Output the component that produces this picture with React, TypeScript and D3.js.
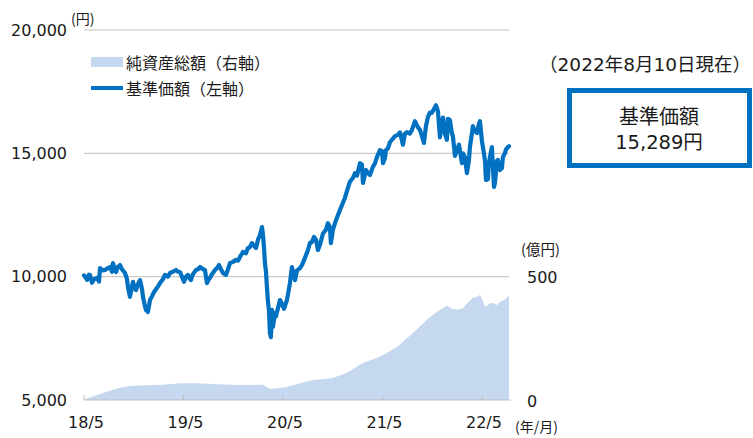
import React from "react";
import * as d3 from "d3";

// 基準価額（円）: [decimal year, value]
const priceSeries: [number, number][] = [
  [2018.333, 10050], [2018.353, 9950], [2018.363, 9870], [2018.383, 10080], [2018.393, 10070],
  [2018.413, 9750], [2018.434, 9900], [2018.464, 9950], [2018.484, 9800], [2018.494, 10350],
  [2018.524, 10250], [2018.544, 10270], [2018.574, 10350], [2018.594, 10390], [2018.614, 10200],
  [2018.624, 10550], [2018.655, 10190], [2018.675, 10400], [2018.695, 10470], [2018.715, 10300],
  [2018.745, 10150], [2018.765, 9900], [2018.775, 9580], [2018.795, 9180], [2018.815, 9600],
  [2018.825, 9790], [2018.846, 9500], [2018.856, 9460], [2018.876, 9700], [2018.896, 9860],
  [2018.916, 9500], [2018.926, 9180], [2018.946, 8800], [2018.956, 8650], [2018.976, 8570],
  [2018.996, 9050], [2019.016, 9200], [2019.037, 9380], [2019.067, 9550], [2019.097, 9740],
  [2019.127, 9900], [2019.147, 10070], [2019.177, 10000], [2019.197, 10150], [2019.227, 10200],
  [2019.258, 10270], [2019.278, 10200], [2019.298, 10190], [2019.318, 10000], [2019.338, 9790],
  [2019.358, 10000], [2019.378, 10070], [2019.398, 9900], [2019.408, 9860], [2019.428, 10100],
  [2019.459, 10270], [2019.479, 10300], [2019.499, 10390], [2019.529, 10300], [2019.549, 10270],
  [2019.569, 9740], [2019.589, 9900], [2019.599, 9950], [2019.619, 10100], [2019.650, 10270],
  [2019.670, 10350], [2019.690, 10470], [2019.710, 10300], [2019.730, 10150], [2019.760, 10070],
  [2019.780, 10300], [2019.800, 10550], [2019.830, 10600], [2019.861, 10680], [2019.881, 10650],
  [2019.901, 10800], [2019.931, 11000], [2019.961, 10950], [2019.981, 11160], [2020.001, 11200],
  [2020.021, 11360], [2020.042, 11250], [2020.062, 11160], [2020.082, 11500], [2020.102, 11690],
  [2020.122, 12010], [2020.132, 11700], [2020.142, 11200], [2020.152, 10550], [2020.162, 10200],
  [2020.172, 9580], [2020.182, 9000], [2020.192, 8650], [2020.202, 7700], [2020.212, 7550],
  [2020.222, 8650], [2020.232, 7960], [2020.253, 8530], [2020.263, 8400], [2020.283, 8730],
  [2020.303, 9050], [2020.323, 8900], [2020.343, 8700], [2020.373, 9050], [2020.393, 9500],
  [2020.403, 9740], [2020.423, 10390], [2020.454, 9860], [2020.474, 10250], [2020.504, 10350],
  [2020.524, 10470], [2020.554, 10760], [2020.584, 11080], [2020.604, 11360], [2020.624, 11410],
  [2020.645, 11610], [2020.665, 11500], [2020.685, 11080], [2020.705, 11300], [2020.735, 11750],
  [2020.765, 11900], [2020.785, 12170], [2020.805, 12010], [2020.815, 11360], [2020.835, 11900],
  [2020.856, 12170], [2020.886, 12500], [2020.906, 12700], [2020.936, 13000], [2020.956, 13200],
  [2020.986, 13600], [2021.006, 13850], [2021.036, 14000], [2021.057, 14200], [2021.077, 14100],
  [2021.107, 14600], [2021.127, 14550], [2021.137, 13800], [2021.167, 14320], [2021.187, 14200],
  [2021.207, 14120], [2021.237, 14450], [2021.258, 14600], [2021.278, 14850], [2021.308, 15130],
  [2021.328, 15100], [2021.338, 14600], [2021.358, 14800], [2021.368, 15130], [2021.388, 15200],
  [2021.408, 15450], [2021.438, 15600], [2021.459, 15700], [2021.489, 15750], [2021.509, 15850],
  [2021.539, 15350], [2021.559, 15800], [2021.579, 15860], [2021.609, 15800], [2021.629, 15950],
  [2021.660, 16300], [2021.690, 16050], [2021.710, 15950], [2021.730, 15700], [2021.750, 15420],
  [2021.770, 16100], [2021.790, 16470], [2021.810, 16650], [2021.830, 16640], [2021.851, 16800],
  [2021.871, 16950], [2021.891, 16700], [2021.911, 15650], [2021.931, 16200], [2021.941, 16450],
  [2021.961, 15800], [2021.981, 15550], [2021.991, 16400], [2022.011, 16350], [2022.031, 15800],
  [2022.041, 15700], [2022.062, 14900], [2022.082, 15130], [2022.102, 15350], [2022.132, 14600],
  [2022.142, 15000], [2022.162, 14850], [2022.182, 14200], [2022.202, 14700], [2022.212, 15250],
  [2022.232, 15800], [2022.242, 16100], [2022.263, 15900], [2022.283, 15820], [2022.303, 16200],
  [2022.313, 16300], [2022.333, 15500], [2022.343, 15250], [2022.363, 14730], [2022.373, 13920],
  [2022.393, 13950], [2022.403, 14600], [2022.423, 15050], [2022.433, 15250], [2022.454, 13640],
  [2022.464, 13800], [2022.484, 14700], [2022.494, 14730], [2022.514, 14320], [2022.534, 14400],
  [2022.544, 14850], [2022.564, 15000], [2022.574, 15150], [2022.594, 15250], [2022.605, 15289],
];

// 純資産総額（億円）: [decimal year, value]
const aumSeries: [number, number][] = [
  [2018.333, 3], [2018.393, 10], [2018.464, 20], [2018.594, 38], [2018.695, 50],
  [2018.795, 57], [2018.966, 60], [2019.127, 62], [2019.298, 68], [2019.469, 68],
  [2019.629, 65], [2019.800, 62], [2019.971, 61], [2020.132, 62], [2020.172, 52],
  [2020.202, 45], [2020.283, 48], [2020.373, 53], [2020.504, 68], [2020.634, 81],
  [2020.835, 89], [2020.976, 110], [2021.137, 150], [2021.308, 175], [2021.479, 215],
  [2021.639, 272], [2021.780, 325], [2021.881, 358], [2021.981, 382], [2022.031, 370],
  [2022.082, 366], [2022.142, 372], [2022.192, 395], [2022.242, 415], [2022.293, 420],
  [2022.313, 427], [2022.343, 400], [2022.363, 378], [2022.413, 390], [2022.444, 394],
  [2022.484, 385], [2022.514, 398], [2022.554, 405], [2022.605, 423],
];

const leftTicks = [5000, 10000, 15000, 20000];
const rightTicks = [0, 500];
const xTickYears = [2018.333, 2019.333, 2020.333, 2021.333, 2022.333];
const xTickLabels = ["18/5", "19/5", "20/5", "21/5", "22/5"];

const BLUE = "#0070C0";
const AREA = "#C6D8EF";
const GRID = "#BFBFBF";
const TEXT = "#1a1a1a";
const NUM_FONT = "'DejaVu Sans', 'Noto Sans CJK JP', sans-serif";
const JP_FONT = "'Noto Sans CJK JP', sans-serif";

export default function App() {
  const x = d3.scaleLinear().domain([2018.333, 2022.605]).range([84, 509]);
  const yL = d3.scaleLinear().domain([5000, 20000]).range([400, 30]);
  const yR = d3.scaleLinear().domain([0, 1500]).range([400, 30]);

  const area = d3
    .area<[number, number]>()
    .x((d) => x(d[0]))
    .y0(yR(0))
    .y1((d) => yR(d[1]))(aumSeries) || "";
  const line = d3
    .line<[number, number]>()
    .x((d) => x(d[0]))
    .y((d) => yL(d[1]))(priceSeries) || "";

  const [x0, x1] = x.range();

  return (
    <svg
      width={753}
      height={438}
      style={{ position: "absolute", left: 0, top: 0, background: "#fff" }}
    >
      {leftTicks.slice(1).map((t) => (
        <line key={t} x1={x0} x2={x1} y1={yL(t)} y2={yL(t)} stroke={GRID} strokeWidth={1} />
      ))}
      <path d={area} fill={AREA} />
      <line x1={x0} x2={x1 + 2} y1={yL(5000)} y2={yL(5000)} stroke={GRID} strokeWidth={1} />
      {xTickYears.map((t) => (
        <line key={t} x1={x(t)} x2={x(t)} y1={yL(5000)} y2={yL(5000) - 5} stroke={GRID} strokeWidth={1} />
      ))}
      <path d={line} fill="none" stroke={BLUE} strokeWidth={4.2} strokeLinejoin="round" strokeLinecap="round" />

      {leftTicks.map((t) => (
        <text key={t} x={67} y={yL(t)} textAnchor="end" dominantBaseline="central" fontFamily={NUM_FONT} fontSize={16} fill={TEXT}>
          {d3.format(",")(t)}
        </text>
      ))}
      <text x={71} y={18} fontFamily={JP_FONT} fontSize={14} fill={TEXT} dominantBaseline="central">(円)</text>

      {rightTicks.map((t) => (
        <text key={t} x={527} y={yR(t) + 1} dominantBaseline="central" fontFamily={NUM_FONT} fontSize={16} fill={TEXT}>
          {t}
        </text>
      ))}
      <text x={521} y={248} fontFamily={JP_FONT} fontSize={14.5} fill={TEXT} dominantBaseline="central">(億円)</text>

      {xTickYears.map((t, i) => (
        <text key={t} x={x(t) + 2} y={422} textAnchor="middle" dominantBaseline="central" fontFamily={NUM_FONT} fontSize={16} fill={TEXT}>
          {xTickLabels[i]}
        </text>
      ))}
      <text x={515} y={426} fontFamily={JP_FONT} fontSize={14} fill={TEXT} dominantBaseline="central">(年/月)</text>

      <rect x={91} y={57} width={32} height={10} fill={AREA} />
      <text x={126} y={62} fontFamily={JP_FONT} fontSize={16} fill={TEXT} dominantBaseline="central">純資産総額（右軸）</text>
      <line x1={91} x2={123} y1={88} y2={88} stroke={BLUE} strokeWidth={4} />
      <text x={126} y={88} fontFamily={JP_FONT} fontSize={16} fill={TEXT} dominantBaseline="central">基準価額（左軸）</text>

      <text x={751} y={64} textAnchor="end" fontFamily={NUM_FONT} fontSize={18.5} fill={TEXT} dominantBaseline="central">（2022年8月10日現在）</text>
      <rect x={569.5} y={90.5} width={180} height={75} fill="#fff" stroke={BLUE} strokeWidth={5} />
      <text x={659} y={115} textAnchor="middle" fontFamily={JP_FONT} fontSize={20} fill={TEXT} dominantBaseline="central">基準価額</text>
      <text x={659} y={142} textAnchor="middle" fontFamily={NUM_FONT} fontSize={19.5} fill={TEXT} dominantBaseline="central">15,289円</text>
    </svg>
  );
}
